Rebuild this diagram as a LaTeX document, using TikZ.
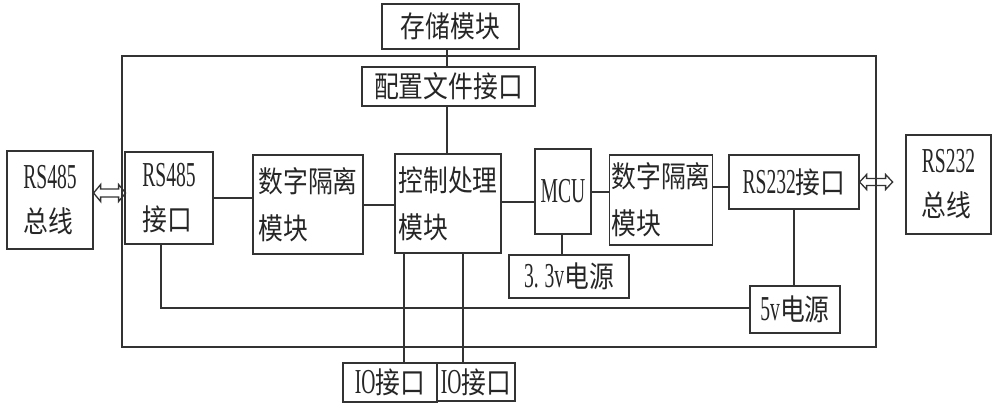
\documentclass[tikz,border=0pt]{standalone}
\usepackage{fontspec}
\newfontfamily\cjk[FakeStretch=0.84]{Noto Sans CJK SC}
\newfontfamily\lat[FakeStretch=0.56]{Liberation Serif}
\newcommand{\ch}[1]{{\cjk\fontsize{29.5}{47}\selectfont #1}}
\newcommand{\la}[1]{{\lat\fontsize{35}{47}\selectfont #1}}
\begin{document}
\begin{tikzpicture}[x=1pt,y=-1pt,
  wire/.style={draw=black!80, line width=1.2pt},
  blk/.style={draw=black!80, line width=1.2pt, rectangle, inner sep=2pt, align=left, text=black!85,
     font=\fontsize{28}{47}\selectfont}]
\useasboundingbox (0,0) rectangle (1000,408);
% outer frame
\node[blk, minimum width=754, minimum height=291] (frame) at (499,201.5) {};
% blocks
\node[blk, minimum width=137, minimum height=45] (store) at (450.5,26.5) {\ch{存储模块}};
\node[blk, fill=white, minimum width=173, minimum height=39] (cfg) at (448.5,86.5) {\ch{配置文件接口}};
\node[blk, minimum width=86, minimum height=98] (bus485) at (50,200) {\la{RS485}\\[-3pt]\ch{总线}};
\node[blk, minimum width=88, minimum height=92] (if485) at (169,198) {\la{RS485}\\[-3pt]\ch{接口}};
\node[blk, minimum width=110, minimum height=99] (iso1) at (308,204.5) {\ch{数字隔离}\\\ch{模块}};
\node[blk, minimum width=106, minimum height=99] (ctrl) at (448,203.5) {\ch{控制处理}\\\ch{模块}};
\node[blk, minimum width=56, minimum height=85] (mcu) at (563,191.5) {\la{MCU}};
\node[blk, minimum width=102, minimum height=90] (iso2) at (661,200) {\ch{数字隔离}\\\ch{模块}};
\node[blk, minimum width=130, minimum height=54] (if232) at (794,182) {\la{RS232}\ch{接口}};
\node[blk, minimum width=85, minimum height=99] (bus232) at (948.5,184.5) {\la{RS232}\\[-3pt]\ch{总线}};
\node[blk, minimum width=120, minimum height=43] (p33) at (569,276.5) {\la{3.\,3v}\ch{电源}};
\node[blk, minimum width=90, minimum height=47] (p5) at (795,309.5) {\la{5v}\ch{电源}};
\node[blk, minimum width=94, minimum height=39] (io1) at (390,382.5) {\la{IO}\ch{接口}};
\node[blk, minimum width=78, minimum height=38] (io2) at (476,382) {\la{IO}\ch{接口}};
% helper coordinates
\coordinate (c485) at (161,308);
% connectors
\draw[wire] (store.south -| 447,0) -- (cfg.north -| 447,0);
\draw[wire] (cfg.south -| 447,0) -- (ctrl.north -| 447,0);
\draw[wire] (if485.east) -- (if485.east -| iso1.west);
\draw[wire] (iso1.east |- 0,205) -- (ctrl.west |- 0,205);
\draw[wire] (ctrl.east |- 0,202) -- (mcu.west |- 0,202);
\draw[wire] (mcu.east |- 0,192) -- (iso2.west |- 0,192);
\draw[wire] (iso2.east |- 0,187) -- (if232.west |- 0,187);
\draw[wire] (mcu.south -| 562,0) -- (p33.north -| 562,0);
\draw[wire] (if232.south -| 794,0) -- (p5.north -| 794,0);
\draw[wire] (if485.south -| c485) -- (c485) -- (c485 -| p5.west);
\draw[wire] (ctrl.south -| 404,0) -- (io1.north -| 404,0);
\draw[wire] (ctrl.south -| 463,0) -- (io2.north -| 463,0);
% double arrows
\draw[wire, line width=1.3pt] (bus485.east |- 0,193) -- ++(7,-8.5) -- ++(0,4.5) -- ++(18,0) -- ++(0,-4.5) -- ++(7,8.5)
  -- ++(-7,8.5) -- ++(0,-4.5) -- ++(-18,0) -- ++(0,4.5) -- cycle;
\draw[wire, line width=1.3pt] (if232.east |- 0,182) -- ++(7,-7.5) -- ++(0,4) -- ++(19,0) -- ++(0,-4) -- ++(7,7.5)
  -- ++(-7,7.5) -- ++(0,-4) -- ++(-19,0) -- ++(0,4) -- cycle;
\end{tikzpicture}
\end{document}
